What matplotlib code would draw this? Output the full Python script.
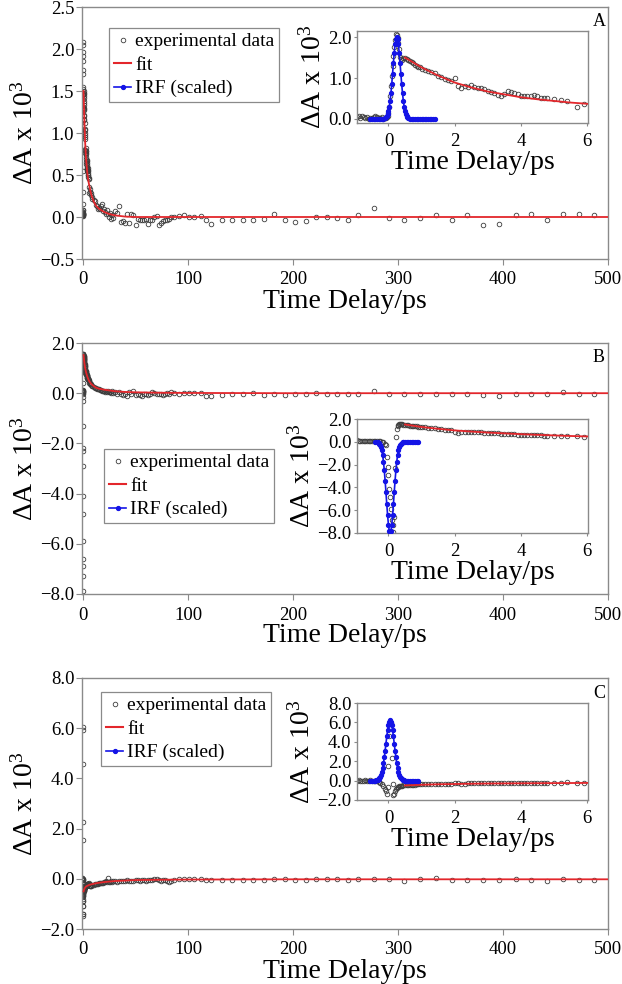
import matplotlib
matplotlib.use('Agg')
import matplotlib.pyplot as plt
from matplotlib.lines import Line2D
from matplotlib.ticker import FuncFormatter

plt.rcParams['font.family'] = ['Liberation Serif', 'DejaVu Serif']
plt.rcParams['mathtext.fontset'] = 'custom'
plt.rcParams['mathtext.rm'] = 'Liberation Serif'
plt.rcParams['mathtext.it'] = 'Liberation Serif:italic'

# time delays (ps), short range (seen in insets) and long range
t_short = [-0.95, -0.9, -0.85, -0.8, -0.75, -0.7, -0.65, -0.6, -0.55, -0.5,
           -0.45, -0.4, -0.35, -0.3, -0.25, -0.2, -0.15,
           -0.1, -0.075, -0.05, -0.025, 0.0, 0.025, 0.05, 0.075, 0.1, 0.125,
           0.15, 0.175, 0.2, 0.225, 0.25, 0.275, 0.3, 0.325, 0.35, 0.375, 0.4, 0.45, 0.5,
           0.55, 0.6, 0.65, 0.7, 0.75, 0.8, 0.85, 0.9, 0.95, 1.0,
           1.1, 1.2, 1.3, 1.4, 1.5, 1.6, 1.7, 1.8, 1.9, 2.0,
           2.1, 2.2, 2.3, 2.4, 2.5, 2.6, 2.7, 2.8, 2.9, 3.0,
           3.1, 3.2, 3.3, 3.4, 3.5, 3.6, 3.7, 3.8, 3.9, 4.0,
           4.1, 4.2, 4.3, 4.4, 4.5, 4.6, 4.7, 4.8,
           5.0, 5.2, 5.4, 5.7, 5.9]
t_long = [6.5, 7, 7.5, 8, 8.5, 9,
          10, 11, 12, 13, 14, 15, 16, 17, 18, 19, 20, 21, 22, 23, 24, 25, 26, 27, 28, 29, 30,
          32, 34, 36, 38, 40, 42, 44, 46, 48, 50, 52, 54, 56, 58, 60, 62, 64, 66, 68, 70,
          72, 74, 76, 78, 80, 82, 84,
          87, 91, 96, 101, 106, 112, 117, 122,
          132, 142, 152, 162, 172, 182, 192, 202, 212, 222, 232, 242, 252, 262,
          277, 291, 306, 321, 336, 351, 366, 381, 396, 412, 427, 442, 457, 472, 487]

# experimental dA x 10^3
dA_A_short = [0.05, 0.07, 0.03, 0.06, 0.04, 0.02, 0.05, 0.01, 0.03, 0.02,
              0.04, 0.08, 0.05, 0.03, 0.02, 0.04, 0.01,
              0.02, 0.03, 0.05, 0.08, 0.15, 0.30, 0.55, 0.80, 1.05, 1.30,
              1.55, 1.75, 1.92, 2.08, 2.05, 1.97, 1.86, 1.70, 1.52, 1.47, 1.45, 1.48, 1.50,
              1.47, 1.44, 1.42, 1.38, 1.36, 1.33, 1.30, 1.28, 1.27, 1.22,
              1.20, 1.17, 1.15, 1.12, 1.05, 1.03, 0.98, 0.95, 0.93, 1.00,
              0.80, 0.76, 0.80, 0.78, 0.82, 0.79, 0.76, 0.75, 0.72, 0.69,
              0.66, 0.63, 0.58, 0.55, 0.62, 0.68, 0.67, 0.64, 0.60, 0.57,
              0.56, 0.57, 0.56, 0.58, 0.55, 0.52, 0.50, 0.50,
              0.48, 0.47, 0.45, 0.29, 0.36]
dA_A_long = [0.33, 0.30, 0.29, 0.26, 0.24, 0.22,
             0.20, 0.19, 0.14, 0.13, 0.10, 0.11, 0.09, 0.13, 0.16, 0.07,
             0.10, 0.06, 0.03, 0.08, 0.04, 0.00, 0.05, -0.02, 0.02, -0.01, 0.07,
             0.05, 0.13, -0.06, -0.05, -0.07, 0.03, -0.07, 0.04, 0.02, -0.10,
             -0.02, -0.04, -0.03, -0.04, -0.02, -0.08, -0.03, -0.03, 0.00, 0.01,
             -0.10, -0.07, -0.05, -0.04, -0.03, -0.02, 0.00,
             0.00, 0.01, 0.02, 0.00, 0.00, 0.01, -0.04, -0.08,
             -0.03, -0.03, -0.03, -0.03, -0.02, 0.04, -0.04, -0.06, -0.05, 0.00,
             0.00, -0.01, -0.03, 0.02,
             0.11, -0.01, -0.04, -0.01, 0.02, -0.04, 0.02, -0.09, -0.08, 0.02,
             0.03, -0.03, 0.03, 0.03, 0.02]

dA_B_short = [0.12, 0.10, 0.08, 0.11, 0.09, 0.10, 0.07, 0.10, 0.09, 0.11,
              0.08, 0.10, 0.06, 0.09, 0.05, 0.02, -0.05,
              -0.15, -0.30, -1.30, -2.20, -2.90, -4.10, -4.80, -5.90, -6.90, -7.90,
              -7.30, -6.60, -2.30, 0.40, 1.10, 1.40, 1.50, 1.55, 1.56, 1.55, 1.54, 1.50, 1.47,
              1.45, 1.43, 1.42, 1.40, 1.38, 1.36, 1.35, 1.33, 1.32, 1.30,
              1.27, 1.24, 1.20, 1.17, 1.14, 1.10, 1.07, 1.04, 1.00, 0.88,
              0.80, 0.90, 0.90, 0.88, 0.87, 0.86, 0.84, 0.82, 0.80, 0.78,
              0.77, 0.76, 0.74, 0.72, 0.71, 0.70, 0.69, 0.68, 0.64, 0.62,
              0.61, 0.60, 0.60, 0.58, 0.57, 0.56, 0.55, 0.55,
              0.55, 0.53, 0.50, 0.48, 0.42]
dA_B_long = [0.42, 0.38, 0.36, 0.33, 0.30, 0.28,
             0.26, 0.22, 0.20, 0.18, 0.16, 0.15, 0.12, 0.13, 0.10, 0.09,
             0.10, 0.06, 0.08, 0.05, 0.07, 0.03, 0.05, 0.02, 0.08, 0.01, 0.03,
             -0.02, 0.05, -0.05, -0.08, -0.03, -0.10, 0.04, -0.05, 0.07, -0.08,
             -0.02, -0.06, -0.10, -0.04, -0.03, -0.08, -0.05, 0.03, 0.02, -0.05,
             -0.03, -0.02, -0.06, -0.04, -0.01, -0.03, 0.05,
             0.00, -0.02, 0.00, 0.01, -0.01, 0.02, -0.10, -0.10,
             -0.06, -0.04, -0.05, 0.00, -0.06, -0.05, -0.07, -0.04, -0.02, -0.01,
             -0.03, -0.02, -0.05, -0.02,
             0.10, -0.05, -0.04, -0.04, -0.02, -0.04, -0.02, -0.08, -0.12, -0.03,
             -0.04, -0.05, 0.05, -0.04, -0.05]

dA_C_short = [0.00, 0.02, -0.02, 0.01, 0.00, 0.03, -0.01, 0.00, 0.02, -0.03,
              0.00, -0.02, -0.05, -0.12, -0.20, -0.40, -0.60,
              -0.90, -1.10, -1.40, -0.70, 1.54, 4.57, 6.05, 5.93, 2.28, -0.30,
              -1.50, -1.40, -1.10, -0.90, -0.80, -0.70, -0.65, -0.60, -0.57, -0.55, -0.53, -0.50, -0.48,
              -0.46, -0.45, -0.44, -0.43, -0.42, -0.41, -0.40, -0.39, -0.38, -0.37,
              -0.36, -0.35, -0.34, -0.33, -0.33, -0.32, -0.31, -0.30, -0.30, -0.29,
              -0.28, -0.30, -0.33, -0.29, -0.28, -0.27, -0.28, -0.29, -0.28, -0.27,
              -0.27, -0.26, -0.26, -0.25, -0.25, -0.24, -0.24, -0.23, -0.23, -0.22,
              -0.22, -0.22, -0.21, -0.21, -0.21, -0.20, -0.20, -0.20,
              -0.20, -0.22, -0.18, -0.20, -0.21]
dA_C_long = [-0.30, -0.29, -0.28, -0.27, -0.26, -0.25,
             -0.24, -0.22, -0.21, -0.20, -0.19, -0.18, -0.17, -0.16, -0.16, -0.15,
             -0.12, -0.14, -0.10, -0.13, 0.02, -0.12, -0.11, -0.10, -0.13, -0.09, -0.10,
             -0.12, -0.08, -0.10, -0.07, -0.09, -0.06, -0.08, -0.07, -0.10, -0.06,
             -0.05, -0.08, -0.06, -0.05, -0.07, -0.04, -0.03, -0.05, 0.00, -0.02,
             -0.05, -0.08, -0.06, -0.04, -0.07, -0.12, -0.08,
             -0.03, 0.00, 0.00, -0.01, 0.00, -0.02, -0.06, -0.05,
             -0.05, -0.04, -0.05, -0.03, -0.06, 0.01, 0.00, -0.05, -0.03, -0.01,
             -0.02, -0.01, -0.03, -0.02,
             -0.01, 0.00, -0.08, -0.02, 0.02, -0.03, -0.03, -0.06, -0.05, 0.01,
             -0.03, -0.07, -0.01, -0.04, -0.03]

# fitted curves
fit_t = [0.5, 0.75, 1, 1.5, 2, 2.5, 3, 3.5, 4, 4.5, 5, 5.5, 6, 7, 8, 10, 12, 15,
         20, 25, 30, 40, 50, 70, 100, 200, 500]
fit_A = [1.50, 1.38, 1.26, 1.06, 0.89, 0.77, 0.67, 0.60, 0.53, 0.48, 0.44, 0.40, 0.37,
         0.31, 0.26, 0.19, 0.14, 0.10, 0.06, 0.035, 0.02, 0.005, 0.0, 0.0, 0.0, 0.0, 0.0]
fit_B = [1.52, 1.41, 1.30, 1.14, 1.00, 0.90, 0.81, 0.74, 0.67, 0.61, 0.56, 0.51, 0.47,
         0.41, 0.36, 0.29, 0.23, 0.18, 0.14, 0.11, 0.08, 0.05, 0.035, 0.02, 0.01, 0.0, 0.0]
fit_C = [-0.50, -0.46, -0.43, -0.38, -0.35, -0.32, -0.30, -0.29, -0.28, -0.27, -0.26,
         -0.25, -0.24, -0.23, -0.22, -0.20, -0.18, -0.16, -0.13, -0.11, -0.09, -0.07,
         -0.05, -0.04, -0.03, -0.02, -0.02]

# instrument response (scaled)
irf_t_A = [-0.55, -0.5, -0.45, -0.4, -0.35, -0.3, -0.25, -0.2, -0.15,
           -0.1, -0.075, -0.05, -0.025, 0.0, 0.025, 0.05, 0.075, 0.1, 0.125,
           0.15, 0.175, 0.2, 0.225, 0.25, 0.275, 0.3, 0.325, 0.35, 0.375,
           0.4, 0.425, 0.45, 0.475, 0.5, 0.525, 0.55, 0.575, 0.6,
           0.65, 0.7, 0.75, 0.8, 0.85, 0.9, 0.95, 1.0, 1.05, 1.1, 1.15, 1.2, 1.25, 1.3, 1.35, 1.4]
irf_A = [0.0, 0.0, 0.0, 0.0, 0.0, 0.0, 0.0, 0.0, 0.0,
         0.02, 0.04, 0.07, 0.11, 0.19, 0.30, 0.44, 0.63, 0.85, 1.11,
         1.37, 1.62, 1.82, 1.95, 2.00, 1.95, 1.82, 1.62, 1.37, 1.11,
         0.85, 0.63, 0.44, 0.30, 0.19, 0.11, 0.07, 0.04, 0.02,
         0.0, 0.0, 0.0, 0.0, 0.0, 0.0, 0.0, 0.0, 0.0, 0.0, 0.0, 0.0, 0.0, 0.0, 0.0, 0.0]
irf_t_B = [-0.4,
           -0.35, -0.325, -0.3, -0.275, -0.25, -0.225, -0.2, -0.175, -0.15, -0.125,
           -0.1, -0.075, -0.05, -0.025, 0.0, 0.025, 0.05, 0.075, 0.1, 0.125,
           0.15, 0.175, 0.2, 0.225, 0.25, 0.275, 0.3, 0.325, 0.35, 0.375,
           0.4, 0.425, 0.45,
           0.5, 0.55, 0.6, 0.65, 0.7, 0.75, 0.8, 0.85, 0.9]
irf_B = [0.0,
         -0.02, -0.04, -0.08, -0.15, -0.27, -0.46, -0.75, -1.18, -1.76, -2.51,
         -3.42, -4.43, -5.48, -6.46, -7.28, -7.81, -8.00, -7.81, -7.28, -6.46,
         -5.48, -4.43, -3.42, -2.51, -1.76, -1.18, -0.75, -0.46, -0.27, -0.15,
         -0.08, -0.04, -0.02,
         0.0, 0.0, 0.0, 0.0, 0.0, 0.0, 0.0, 0.0, 0.0]
irf_t_C = [-0.55, -0.5, -0.45,
           -0.4, -0.375, -0.35, -0.325, -0.3, -0.275, -0.25, -0.225, -0.2, -0.175,
           -0.15, -0.125, -0.1, -0.075, -0.05, -0.025, 0.0, 0.025, 0.05, 0.075,
           0.1, 0.125, 0.15, 0.175, 0.2, 0.225, 0.25, 0.275, 0.3, 0.325,
           0.35, 0.375, 0.4, 0.425, 0.45, 0.475, 0.5,
           0.55, 0.6, 0.65, 0.7, 0.75, 0.8, 0.85, 0.9]
irf_C = [0.0, 0.0, 0.0,
         0.01, 0.02, 0.04, 0.08, 0.14, 0.23, 0.38, 0.60, 0.89, 1.29,
         1.79, 2.40, 3.09, 3.82, 4.55, 5.21, 5.74, 6.08, 6.20, 6.08,
         5.74, 5.21, 4.55, 3.82, 3.09, 2.40, 1.79, 1.29, 0.89, 0.60,
         0.38, 0.23, 0.14, 0.08, 0.04, 0.02, 0.01,
         0.0, 0.0, 0.0, 0.0, 0.0, 0.0, 0.0, 0.0]

panels = {
    'A': dict(data=dA_A_short + dA_A_long, fit=fit_A, irf_t=irf_t_A, irf=irf_A,
              ylim=(-0.5, 2.5), yticks=[-0.5, 0.0, 0.5, 1.0, 1.5, 2.0, 2.5],
              iylim=(-0.1, 2.15), iyticks=[0.0, 1.0, 2.0],
              main=(82, 7, 608, 259), inset=(357, 31, 588, 123), leg=(109, 28), lab=(599, 22)),
    'B': dict(data=dA_B_short + dA_B_long, fit=fit_B, irf_t=irf_t_B, irf=irf_B,
              ylim=(-8, 2), yticks=[-8, -6, -4, -2, 0, 2],
              iylim=(-8, 2), iyticks=[-8, -6, -4, -2, 0, 2],
              main=(82, 343, 608, 594), inset=(357, 419, 588, 533), leg=(104, 449), lab=(599, 357)),
    'C': dict(data=dA_C_short + dA_C_long, fit=fit_C, irf_t=irf_t_C, irf=irf_C,
              ylim=(-2, 8), yticks=[-2, 0, 2, 4, 6, 8],
              iylim=(-2, 8), iyticks=[-2, 0, 2, 4, 6, 8],
              main=(82, 678, 608, 929), inset=(357, 703, 588, 800), leg=(101, 692), lab=(599, 693)),
}
t_all = t_short + t_long

W, H = 622, 984
fig = plt.figure(figsize=(W / 100, H / 100), dpi=100)

def box(l, t, r, b):
    return [l / W, 1 - b / H, (r - l) / W, (b - t) / H]

fmt1 = FuncFormatter(lambda v, p: ('%.1f' % v).replace('-', '\u2212'))
ylab = '\u0394A x 10$^{3}$'
red = '#e3262b'
blue = '#1414e6'
gray = '#8a8a8a'

def style(ax, tlen, xpad):
    for s in ax.spines.values():
        s.set_color(gray)
        s.set_linewidth(1.0)
    ax.tick_params(direction='out', length=tlen, color=gray, labelsize=13.5,
                   pad=1.5, top=False, right=False)
    ax.tick_params(axis='x', pad=xpad)

for name, p in panels.items():
    ax = fig.add_axes(box(*p['main']))
    ax.plot(t_all, p['data'], 'o', ms=3.3, mfc='none', mec='#3c3c3c', mew=0.6, zorder=2)
    ax.plot(fit_t, p['fit'], color=red, lw=1.3, zorder=3)
    ax.set_xlim(-1, 500)
    ax.set_ylim(*p['ylim'])
    ax.set_xticks([0, 100, 200, 300, 400, 500])
    ax.set_yticks(p['yticks'])
    ax.yaxis.set_major_formatter(fmt1)
    style(ax, 4, 5)
    ax.set_xlabel('Time Delay/ps', fontsize=20, labelpad=0)
    ax.set_ylabel(ylab, fontsize=20, labelpad=1)

    handles = [Line2D([], [], ls='none', marker='o', ms=3.3, mfc='none', mec='#3c3c3c', mew=0.6),
               Line2D([], [], color=red, lw=1.5),
               Line2D([], [], color=blue, lw=1.2, marker='o', ms=2.8)]
    lx, ly = p['leg']
    leg = ax.legend(handles, ['experimental data', 'fit', 'IRF (scaled)'],
                    loc='upper left', bbox_to_anchor=(lx / W, 1 - ly / H),
                    bbox_transform=fig.transFigure, fontsize=14, frameon=True,
                    fancybox=False, edgecolor=gray, framealpha=1, numpoints=1,
                    borderpad=0.25, handlelength=0.9, handletextpad=0.2,
                    labelspacing=0.3, borderaxespad=0)
    leg.get_frame().set_linewidth(0.9)

    fig.text(p['lab'][0] / W, 1 - p['lab'][1] / H, name, fontsize=13,
             ha='center', va='center')

    ins = fig.add_axes(box(*p['inset']))
    ins.plot(t_all, p['data'], 'o', ms=3.3, mfc='none', mec='#3c3c3c', mew=0.6, zorder=2)
    ins.plot(fit_t, p['fit'], color=red, lw=1.3, zorder=3)
    ins.plot(p['irf_t'], p['irf'], color=blue, lw=1.2, marker='o', ms=2.8, zorder=4)
    ins.set_xlim(-0.95, 6.03)
    ins.set_ylim(*p['iylim'])
    ins.set_xticks([0, 2, 4, 6])
    ins.set_yticks(p['iyticks'])
    ins.yaxis.set_major_formatter(fmt1)
    style(ins, 2.5, 4.5)
    ins.set_xlabel('Time Delay/ps', fontsize=20, labelpad=0)
    ins.set_ylabel(ylab, fontsize=20, labelpad=1)

fig.savefig('out.png', dpi=100)
